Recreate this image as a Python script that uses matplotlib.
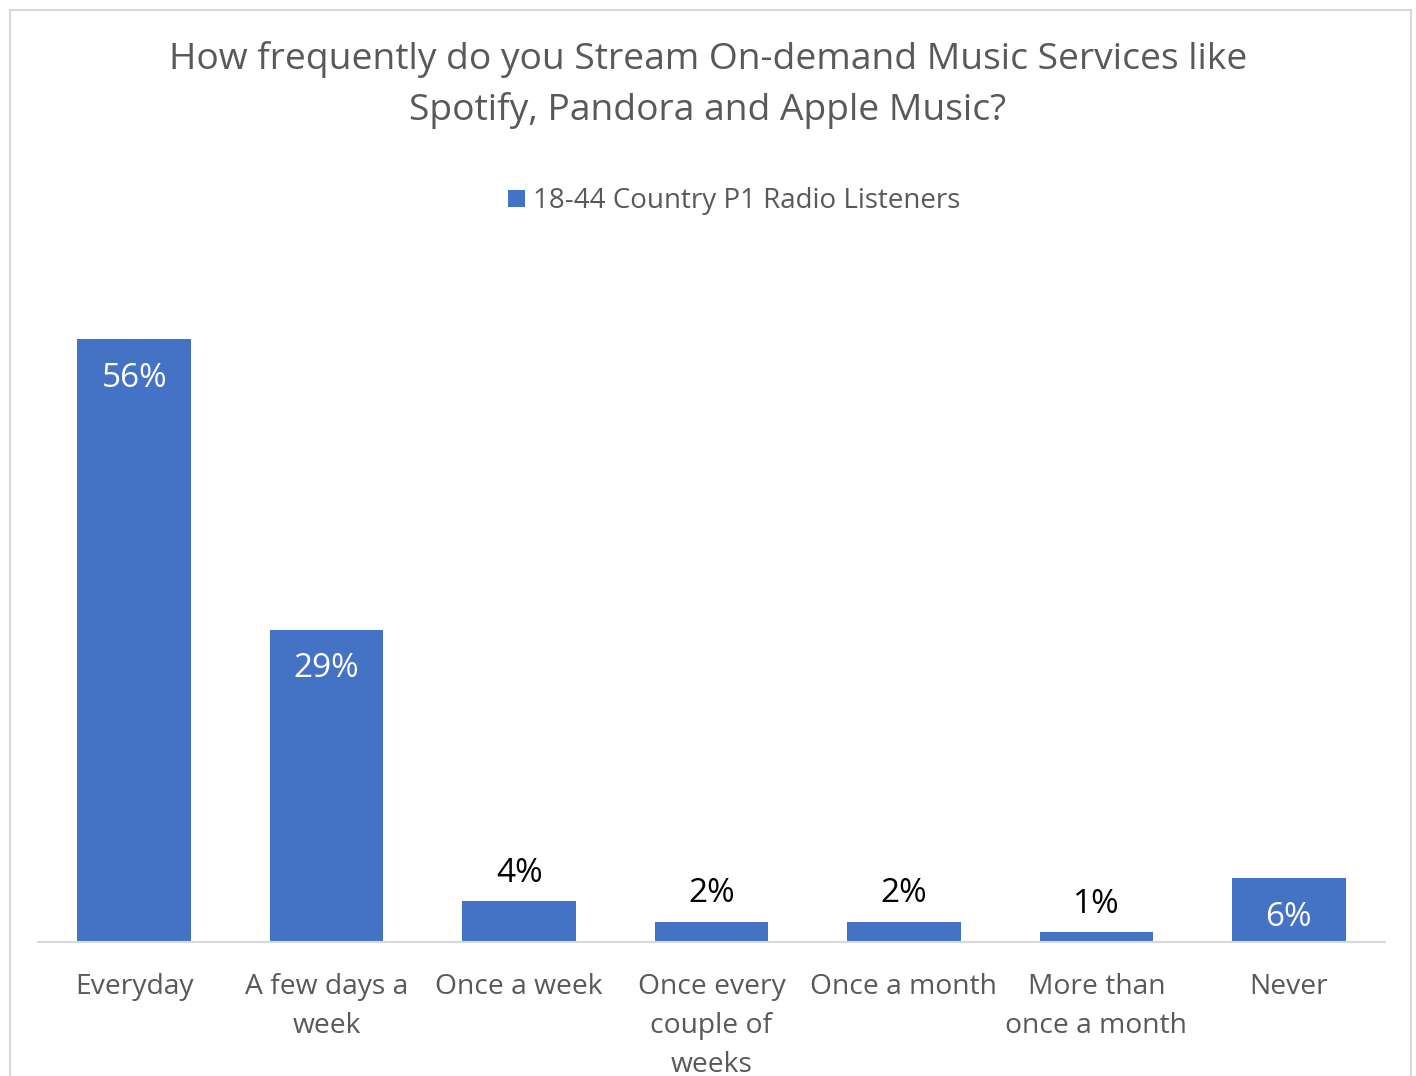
import matplotlib.pyplot as plt
from matplotlib.patches import Rectangle

# survey answers and share of respondents (%)
categories = ["Everyday", "A few days a\nweek", "Once a week", "Once every\ncouple of\nweeks",
              "Once a month", "More than\nonce a month", "Never"]
values = [56, 29, 3.8, 1.9, 1.9, 0.9, 5.9]
series_name = "18-44 Country P1 Radio Listeners"
title = "How frequently do you Stream On-demand Music Services like\nSpotify, Pandora and Apple Music?"

blue = "#4472C4"
grey = "#595959"
plt.rcParams['font.family'] = ['Open Sans', 'DejaVu Sans']

fig = plt.figure(figsize=(14.16, 10.76), dpi=100)
# chart frame
fig.patches.append(Rectangle((10/1416, -0.01), 1401/1416, 1.0 - 10/1076 + 0.01, transform=fig.transFigure,
                             fill=False, edgecolor="#D9D9D9", linewidth=1.5))

ax = fig.add_axes([38/1416, 134/1076, (1385-38)/1416, (942-296)/1076])
x = range(len(values))
bars = ax.bar(x, values, width=0.59, color=blue)
ax.set_xlim(-0.5, len(values) - 0.5)
ax.set_ylim(0, 60)

for b, v in zip(bars, values):
    cx = b.get_x() + b.get_width()/2
    lab = "%d%%" % round(v)
    if v >= 5:
        ax.annotate(lab, (cx, v), xytext=(0, -39), textcoords="offset pixels",
                    ha="center", va="center", color="white", fontsize=24)
    else:
        ax.annotate(lab, (cx, v), xytext=(0, 28), textcoords="offset pixels",
                    ha="center", va="center", color="black", fontsize=24)

for s in ["top", "right", "left"]:
    ax.spines[s].set_visible(False)
ax.spines["bottom"].set_color("#D9D9D9")
ax.spines["bottom"].set_linewidth(1.5)
ax.set_yticks([])
ax.set_xticks(list(x))
ax.set_xticklabels(categories, fontsize=20.3, color=grey, linespacing=1.53)
ax.tick_params(axis="x", length=0, pad=22)

fig.text(0.5, 1 - 85/1076, title, ha="center", va="center", fontsize=26.8,
         color=grey, linespacing=1.5)

# legend
fig.patches.append(Rectangle((508/1416, 1 - 207/1076), 17/1416, 17/1076, transform=fig.transFigure,
                             facecolor=blue, edgecolor="none"))
fig.text(533/1416, 1 - 201/1076, series_name, ha="left", va="center", fontsize=20, color=grey)

fig.savefig("out.png", dpi=100)
